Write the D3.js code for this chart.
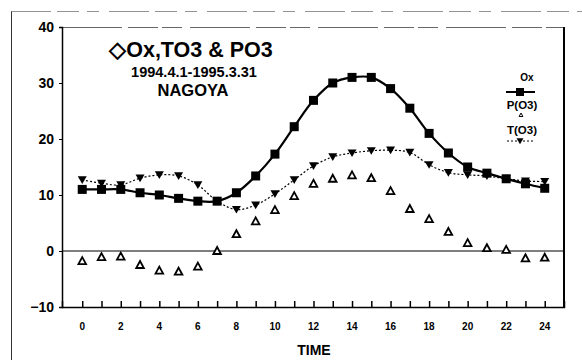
<!DOCTYPE html>
<html><head><meta charset="utf-8">
<script src="https://cdn.jsdelivr.net/npm/d3@7"></script>
<style>body{margin:0;background:#fff}svg{display:block;font-family:"Liberation Sans",Arial,sans-serif}</style>
</head><body><svg id="c" width="582" height="360"></svg>
<script>
const hours = d3.range(0, 25);
const ox  = [11,11,11,10.4,10,9.4,8.9,8.9,10.4,13.4,17.3,22.2,26.9,30,31,31,29,25.5,21,17.5,15,13.9,12.9,12,11.2];
const tO3 = [12.7,12.1,11.8,13,13.6,13.4,11.8,8.9,7.4,8.2,10.2,12.7,15.2,16.8,17.5,17.9,18,17.6,15.4,14,13.6,13.4,12.9,12.5,12.4];
const pO3 = [-1.8,-1.1,-1,-2.5,-3.5,-3.7,-2.8,0,3,5.3,7.3,9.8,12,12.9,13.5,13,10.7,7.5,5.7,3.4,1.4,0.5,0.2,-1.3,-1.2];
const yTicks = [-10,0,10,20,30,40];
const xTicks = d3.range(0, 25);
const xLabels = d3.range(0, 25, 2);
const titleText = "\u25C7Ox,TO3 & PO3";
const subtitle = "1994.4.1-1995.3.31";
const place = "NAGOYA";
const legendNames = ["Ox","P(O3)","T(O3)"];

const svg = d3.select("#c");
const L = 62, R = 564, T = 27, B = 307;
const x = d3.scaleLinear().domain([-1.05, 25]).range([L, R]);
const y = d3.scaleLinear().domain([-10, 40]).range([B, T]);

// outer frame (left and top)
svg.append("line").attr("x1",11.5).attr("x2",11.5).attr("y1",11).attr("y2",360).attr("stroke","#333").attr("stroke-width",1);
svg.append("line").attr("x1",11).attr("x2",582).attr("y1",11.5).attr("y2",11.5).attr("stroke","#777").attr("stroke-width",0.8).attr("stroke-dasharray","40,6,22,8,12,10");

// plot box
svg.append("line").attr("x1",L).attr("x2",R).attr("y1",T+0.5).attr("y2",T+0.5).attr("stroke","#555").attr("stroke-width",0.9).attr("stroke-dasharray","60,6,30,4,20,8");
svg.append("line").attr("x1",R).attr("x2",R).attr("y1",T).attr("y2",B).attr("stroke","#000").attr("stroke-width",2);

// y axis
const ya = svg.append("g").attr("transform",`translate(${L},0)`)
  .call(d3.axisLeft(y).tickValues(yTicks).tickSize(3).tickFormat(d => d===-10 ? "\u221210" : d));
ya.select(".domain").attr("stroke","#000").attr("stroke-width",1.5);
ya.selectAll("text").attr("font-size",14).attr("font-weight","bold").attr("fill","#000").attr("dx",-2);

// x axis
const xa = svg.append("g").attr("transform",`translate(0,${B})`)
  .call(d3.axisBottom(x).tickValues(xTicks).tickSize(-6).tickFormat(""));
xa.select(".domain").attr("stroke","#000").attr("stroke-width",1.5);
xa.selectAll("line").attr("stroke-width",1.5);
svg.append("g").selectAll("text").data(xLabels).join("text")
  .attr("x", d => x(d)).attr("y", 330).attr("text-anchor","middle")
  .attr("font-size",10).attr("font-weight","bold").text(d => d);
svg.append("text").attr("x",314).attr("y",355).attr("text-anchor","middle")
  .attr("font-size",14).attr("font-weight","bold").text("TIME");

// zero line
svg.append("line").attr("x1",L).attr("x2",R).attr("y1",y(0)).attr("y2",y(0)).attr("stroke","#000").attr("stroke-width",1.2);

// title
svg.append("text").attr("x",191).attr("y",57).attr("text-anchor","middle").attr("font-size",21.5).attr("font-weight","bold").text(titleText);
svg.append("text").attr("x",194).attr("y",77).attr("text-anchor","middle").attr("font-size",14.5).attr("font-weight","bold").text(subtitle);
svg.append("text").attr("x",193).attr("y",96).attr("text-anchor","middle").attr("font-size",16.5).attr("font-weight","bold").text(place);

// T(O3) dotted line
const line = d3.line().x((d,i) => x(hours[i])).y(d => y(d)).curve(d3.curveCatmullRom);
svg.append("path").datum(tO3).attr("d",line).attr("fill","none").attr("stroke","#000").attr("stroke-width",1.2).attr("stroke-dasharray","2,2");
const downTri = s => `M${-s},${-s*0.8}L${s},${-s*0.8}L0,${s*0.9}Z`;
svg.append("g").selectAll("path").data(tO3).join("path")
  .attr("transform",(d,i)=>`translate(${x(hours[i])},${y(d)})`).attr("d",downTri(4.5)).attr("fill","#000");

// Ox solid line
svg.append("path").datum(ox).attr("d",line).attr("fill","none").attr("stroke","#000").attr("stroke-width",2.2);
svg.append("g").selectAll("rect").data(ox).join("rect")
  .attr("x",(d,i)=>x(hours[i])-4.5).attr("y",d=>y(d)-4.5).attr("width",9).attr("height",9).attr("fill","#000");

// P(O3) open triangles
const upTri = s => `M0,${-s}L${s*0.95},${s*0.75}L${-s*0.95},${s*0.75}Z`;
svg.append("g").selectAll("path").data(pO3).join("path")
  .attr("transform",(d,i)=>`translate(${x(hours[i])},${y(d)})`).attr("d",upTri(4)).attr("fill","#fff").attr("stroke","#000").attr("stroke-width",1.8);

// legend
const lg = svg.append("g");
lg.append("text").attr("x",527).attr("y",81).attr("text-anchor","middle").attr("font-size",10).attr("font-weight","bold").text(legendNames[0]);
lg.append("line").attr("x1",506).attr("x2",535).attr("y1",92).attr("y2",92).attr("stroke","#000").attr("stroke-width",2);
lg.append("rect").attr("x",516).attr("y",88).attr("width",8).attr("height",8).attr("fill","#000");
lg.append("text").attr("x",522).attr("y",109).attr("text-anchor","middle").attr("font-size",11.5).attr("font-weight","bold").text(legendNames[1]);
lg.append("path").attr("transform","translate(521,115)").attr("d",upTri(2)).attr("fill","#fff").attr("stroke","#000").attr("stroke-width",1);
lg.append("text").attr("x",522).attr("y",134).attr("text-anchor","middle").attr("font-size",11.5).attr("font-weight","bold").text(legendNames[2]);
lg.append("line").attr("x1",507).attr("x2",535).attr("y1",141).attr("y2",141).attr("stroke","#000").attr("stroke-width",1.2).attr("stroke-dasharray","2,2");
lg.append("path").attr("transform","translate(520,141)").attr("d",downTri(3.5)).attr("fill","#000");
</script></body></html>
